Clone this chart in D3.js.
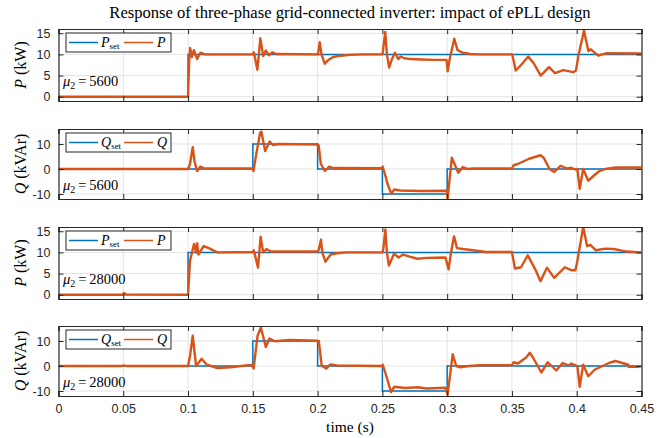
<!DOCTYPE html>
<html>
<head>
<meta charset="utf-8">
<script src="https://cdn.jsdelivr.net/npm/d3@7"></script>
<style>
  body { margin: 0; background: #fff; }
  svg { display: block; }
</style>
</head>
<body>
<svg id="chart" width="668" height="438"></svg>
<script>
// ---- data ----
const timeTicks = [0, 0.05, 0.1, 0.15, 0.2, 0.25, 0.3, 0.35, 0.4, 0.45];
const pTicks = [0, 5, 10, 15];
const qTicks = [-10, 0, 10];

const pSetEdges = [0, 0.1, 0.45];
const pSetLevels = [0, 10, 10];
const qSetEdges = [0, 0.15, 0.2, 0.25, 0.3, 0.45];
const qSetLevels = [0, 10, 0, -10, 0, 0];

// P, mu2 = 5600
const p5600 = [[0,0],[0.1,0],[0.1008,8],[0.1016,11.5],[0.103,9.4],[0.1045,11],[0.107,8.9],[0.1095,10.4],[0.113,10],[0.15,10],
  [0.1508,10.5],[0.1535,6.4],[0.1558,13.8],[0.158,9.6],[0.16,10.9],[0.1625,9.8],[0.165,10.5],[0.168,10.1],[0.2,10],
  [0.2008,11],[0.2016,12.9],[0.203,10],[0.2055,7.8],[0.208,8.6],[0.212,9.4],[0.218,9.7],[0.225,9.9],[0.235,10],[0.25,10],
  [0.2505,11],[0.2522,15.3],[0.2535,10],[0.2552,6.9],[0.2575,9],[0.2597,10.4],[0.2623,8.9],[0.2641,9.5],[0.267,9.1],[0.272,8.9],[0.28,8.8],[0.29,8.7],[0.2995,8.7],
  [0.3004,6.0],[0.302,9],[0.3055,13.7],[0.308,11],[0.312,10.4],[0.318,10.1],[0.325,10],[0.35,10],
  [0.3503,9.9],[0.3529,6.2],[0.357,7.5],[0.3626,9.5],[0.367,7.8],[0.3722,5.0],[0.3786,7.0],[0.3832,5.6],[0.3896,6.3],[0.3973,5.8],[0.3994,6.2],
  [0.4015,10],[0.4056,15.6],[0.409,10.8],[0.4108,11.2],[0.4166,9.7],[0.4231,10.3],[0.45,10.2]];

// Q, mu2 = 5600
const q5600 = [[0,0],[0.1,0],[0.1015,2],[0.1036,8.7],[0.105,3],[0.107,-0.8],[0.1095,1.0],[0.112,0.3],[0.15,0.2],
  [0.1505,-0.8],[0.152,4],[0.1556,14.5],[0.1566,15],[0.1595,7.2],[0.163,11],[0.1655,9.6],[0.17,10],[0.2,9.8],
  [0.2008,9.5],[0.2025,2],[0.2056,-0.8],[0.209,1.0],[0.212,0.4],[0.25,0.3],
  [0.2502,1],[0.2525,-3],[0.254,-6],[0.257,-10],[0.259,-8.2],[0.264,-8.6],[0.28,-8.8],[0.2998,-8.7],
  [0.3003,-12],[0.3036,4.5],[0.3086,-1.5],[0.312,0.8],[0.316,0],[0.32,0.2],[0.35,0.2],
  [0.3513,1.5],[0.3545,2],[0.3628,4],[0.372,5.5],[0.3745,4.5],[0.379,0],[0.3826,-1.2],[0.3875,1.3],[0.3925,0.2],[0.3957,0.5],[0.399,-0.2],[0.4005,0],
  [0.4023,-7.9],[0.405,0],[0.4089,-4.7],[0.4135,-2.5],[0.417,-1],[0.422,0],[0.43,0.6],[0.45,0.6]];

// P, mu2 = 28000
const p28000 = [[0,0],[0.049,0],[0.0505,0.4],[0.052,0.1],[0.1,0],[0.1015,8],[0.1046,12],[0.1062,10],[0.107,12.2],[0.108,9.5],[0.112,11.5],[0.116,11],[0.1227,10],[0.15,10.1],
  [0.1507,10.5],[0.154,6.4],[0.156,13.7],[0.158,10],[0.1605,10.8],[0.164,10.2],[0.2,10.2],
  [0.2008,10.5],[0.2026,13],[0.2036,10],[0.206,7.8],[0.21,9.5],[0.215,9.8],[0.222,10],[0.25,10],
  [0.2508,11],[0.2523,15.4],[0.2535,10],[0.255,6.9],[0.259,9.7],[0.2625,8.8],[0.266,9.5],[0.271,9],[0.277,8.5],[0.284,8.7],[0.2987,8.8],
  [0.3011,6.0],[0.303,10],[0.3053,13.8],[0.3076,11],[0.312,10.8],[0.32,10.5],[0.33,10.1],[0.35,10.1],
  [0.3523,6.2],[0.357,6.5],[0.3622,9.3],[0.368,6],[0.372,3.2],[0.377,6.4],[0.3826,4],[0.3908,6.5],[0.3957,5.8],[0.399,5.8],
  [0.4005,8],[0.405,16],[0.408,11.5],[0.4105,11.8],[0.4148,10.5],[0.422,10.9],[0.4286,10.8],[0.4385,10.2],[0.45,10]];

// Q, mu2 = 28000
const q28000 = [[0,0],[0.049,0],[0.0505,0.3],[0.052,0],[0.1,0],[0.1015,4],[0.1036,12.1],[0.1062,0],[0.1105,2.9],[0.1145,0.5],[0.1227,-0.8],[0.1326,-0.5],[0.141,0],[0.149,0.4],
  [0.1506,-1],[0.1536,12],[0.1562,15.4],[0.16,7.6],[0.1628,11],[0.167,9.9],[0.1786,10.4],[0.2,10.1],
  [0.2009,10],[0.2032,0],[0.2066,-1],[0.2099,0.6],[0.2148,0.2],[0.25,0],
  [0.2503,0.5],[0.2536,-5],[0.2566,-10.4],[0.2592,-8.3],[0.2675,-8.8],[0.2773,-8.5],[0.2839,-9],[0.2987,-8.7],
  [0.3003,-11.5],[0.3043,4.7],[0.307,0],[0.3102,-0.5],[0.3168,0],[0.325,0.3],[0.35,0.3],
  [0.3513,1.5],[0.3546,1],[0.3612,3.5],[0.3638,5.3],[0.3661,3.5],[0.3727,-2.6],[0.3776,1.5],[0.3842,-1.8],[0.3891,1.2],[0.3941,0.2],[0.3957,1],[0.4005,0],
  [0.4023,-8.3],[0.405,0.5],[0.4089,-4.1],[0.4138,-1.5],[0.4253,1.3],[0.43,2],[0.4398,0.5],[0.44,-0.3],[0.447,-0.3],[0.45,0]];

const panels = [
  { kind: 'P', mu: '5600',  series: p5600 },
  { kind: 'Q', mu: '5600',  series: q5600 },
  { kind: 'P', mu: '28000', series: p28000 },
  { kind: 'Q', mu: '28000', series: q28000 }
];

// ---- layout ----
const svg = d3.select('#chart');
const left = 58.5, right = 641.5;
const tops = [29, 129, 227, 326];
const heights = [72, 70, 72, 70];
const blue = '#0072BD', orange = '#D95319', axisCol = '#262626', gridCol = '#e3e3e3';
const serif = "'Liberation Serif', 'DejaVu Serif', serif";
const sans = "'Liberation Sans', Arial, sans-serif";

const x = d3.scaleLinear().domain([0, 0.45]).range([left, right]);

svg.append('text')
  .attr('x', (left + right) / 2).attr('y', 18)
  .attr('text-anchor', 'middle')
  .attr('font-family', serif).attr('font-size', 16.6)
  .attr('fill', '#000')
  .text('Response of three-phase grid-connected inverter: impact of ePLL design');

panels.forEach((pn, i) => {
  const top = tops[i], h = heights[i], bottom = top + h;
  const isP = pn.kind === 'P';
  const y = d3.scaleLinear().domain(isP ? [-1, 16] : [-12, 16]).range([bottom, top]);
  const yTicks = isP ? pTicks : qTicks;
  const g = svg.append('g');

  // grid
  g.selectAll('.gx').data(timeTicks.slice(1, -1)).enter().append('line')
    .attr('x1', d => x(d)).attr('x2', d => x(d))
    .attr('y1', top).attr('y2', bottom)
    .attr('stroke', gridCol).attr('stroke-width', 1);
  g.selectAll('.gy').data(yTicks).enter().append('line')
    .attr('x1', left).attr('x2', right)
    .attr('y1', d => y(d)).attr('y2', d => y(d))
    .attr('stroke', gridCol).attr('stroke-width', 1);

  const clipId = 'clip' + i;
  svg.append('clipPath').attr('id', clipId).append('rect')
    .attr('x', left).attr('y', top).attr('width', right - left).attr('height', h);

  // setpoint
  const edges = isP ? pSetEdges : qSetEdges;
  const levels = isP ? pSetLevels : qSetLevels;
  const setLine = d3.line().curve(d3.curveStepAfter).x(d => x(d[0])).y(d => y(d[1]));
  g.append('path')
    .datum(edges.map((t, k) => [t, levels[k]]))
    .attr('clip-path', `url(#${clipId})`)
    .attr('d', setLine)
    .attr('fill', 'none').attr('stroke', blue).attr('stroke-width', 1.5);

  // measured
  const line = d3.line().x(d => x(d[0])).y(d => y(d[1]));
  g.append('path')
    .datum(pn.series)
    .attr('clip-path', `url(#${clipId})`)
    .attr('d', line)
    .attr('fill', 'none').attr('stroke', orange).attr('stroke-width', 2.4)
    .attr('stroke-linejoin', 'round');

  // axes (MATLAB style: ticks inside, box)
  const yAxis = d3.axisLeft(y).tickValues(yTicks).tickSize(-5).tickPadding(8)
    .tickFormat(d => d < 0 ? '-' + Math.abs(d) : d);
  const ya = g.append('g').attr('transform', `translate(${left},0)`).call(yAxis);
  const yr = g.append('g').attr('transform', `translate(${right},0)`)
    .call(d3.axisRight(y).tickValues(yTicks).tickSize(-5).tickFormat(''));
  const xb = g.append('g').attr('transform', `translate(0,${bottom})`)
    .call(d3.axisBottom(x).tickValues(timeTicks).tickSize(-5).tickPadding(8)
      .tickFormat(i === 3 ? d => d : ''));
  const xt = g.append('g').attr('transform', `translate(0,${top})`)
    .call(d3.axisTop(x).tickValues(timeTicks).tickSize(-5).tickFormat(''));
  [ya, yr, xb, xt].forEach(a => {
    a.select('.domain').attr('stroke', axisCol).attr('stroke-width', 1.2);
    a.selectAll('.tick line').attr('stroke', axisCol).attr('stroke-width', 1);
    a.selectAll('.tick text').attr('font-family', sans).attr('font-size', 12.5).attr('fill', axisCol);
  });

  // y label
  const yl = g.append('text')
    .attr('transform', `translate(26,${(top + bottom) / 2}) rotate(-90)`)
    .attr('text-anchor', 'middle')
    .attr('font-family', serif).attr('font-size', 16).attr('fill', '#000');
  yl.append('tspan').attr('font-style', 'italic').text(pn.kind);
  yl.append('tspan').text(isP ? ' (kW)' : ' (kVAr)');

  // mu label
  const mu = g.append('text')
    .attr('x', 63).attr('y', top + (isP ? 52 : 56) + 5)
    .attr('font-family', serif).attr('font-size', 14.5).attr('fill', '#000');
  mu.append('tspan').attr('font-style', 'italic').text('μ');
  mu.append('tspan').attr('font-size', 10).attr('dy', 3).text('2');
  mu.append('tspan').attr('dy', -3).text('\u2009=\u2009' + pn.mu);

  // legend
  const lg = g.append('g').attr('transform', `translate(66,${top + 4})`);
  lg.append('rect').attr('width', 105).attr('height', 19)
    .attr('fill', '#fff').attr('stroke', axisCol).attr('stroke-width', 1);
  lg.append('line').attr('x1', 3).attr('x2', 32).attr('y1', 9.5).attr('y2', 9.5)
    .attr('stroke', blue).attr('stroke-width', 1.5);
  const t1 = lg.append('text').attr('x', 35).attr('y', 14)
    .attr('font-family', serif).attr('font-size', 14).attr('fill', '#000');
  t1.append('tspan').attr('font-style', 'italic').text(pn.kind);
  t1.append('tspan').attr('font-size', 9).attr('dy', 2).text('set');
  lg.append('line').attr('x1', 58).attr('x2', 87).attr('y1', 9.5).attr('y2', 9.5)
    .attr('stroke', orange).attr('stroke-width', 1.5);
  lg.append('text').attr('x', 91).attr('y', 14)
    .attr('font-family', serif).attr('font-size', 14).attr('font-style', 'italic').attr('fill', '#000')
    .text(pn.kind);
});

svg.append('text')
  .attr('x', (left + right) / 2).attr('y', 432)
  .attr('text-anchor', 'middle')
  .attr('font-family', serif).attr('font-size', 15.5).attr('fill', '#000')
  .text('time (s)');
</script>
</body>
</html>
